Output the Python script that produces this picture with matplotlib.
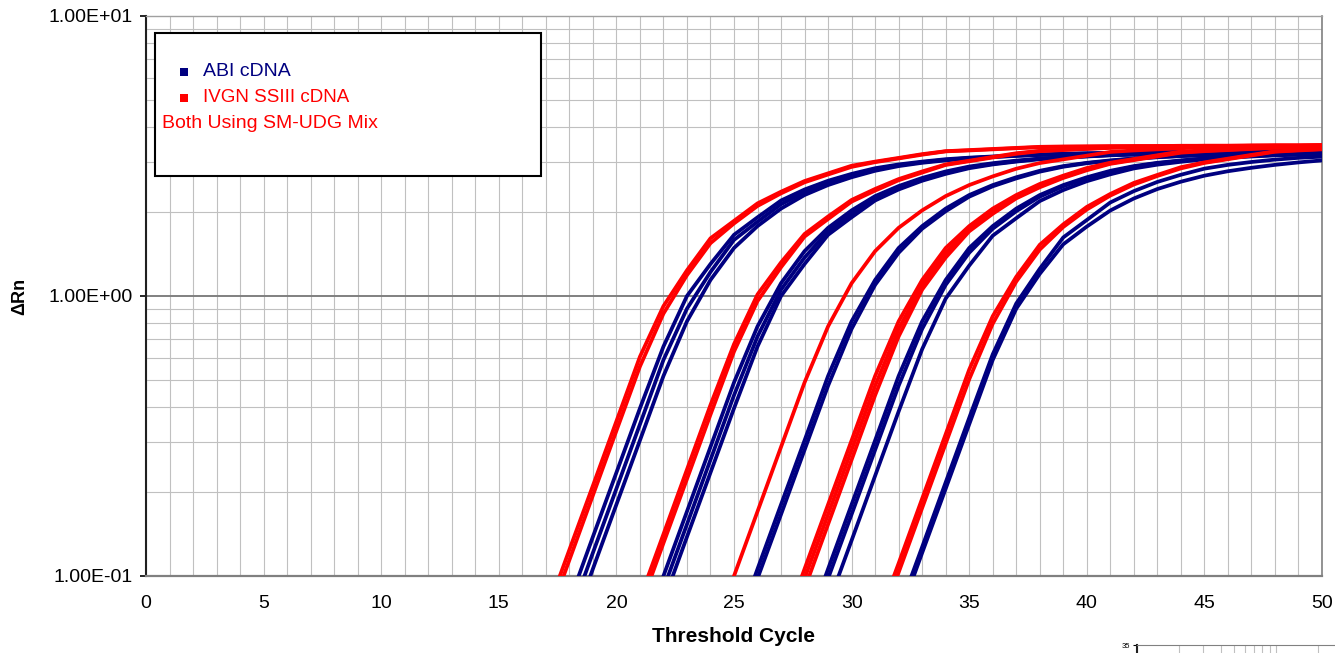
import numpy as np
import matplotlib
matplotlib.use("Agg")
import matplotlib.pyplot as plt
from matplotlib.patches import Rectangle
from matplotlib.ticker import FixedLocator, NullFormatter, MultipleLocator

plt.rcParams['font.family'] = ['Liberation Sans', 'DejaVu Sans']

# ---------------- data (Delta Rn at integer cycles) ----------------
# IVGN SSIII cDNA (red) : (first cycle, values up to cycle 50)
ivgn_1a_start, ivgn_1a = 17, [0.073, 0.124, 0.210, 0.357, 0.607, 0.920, 1.235, 1.607, 1.855, 2.142, 2.358, 2.574, 2.742, 2.919, 3.020, 3.113, 3.211, 3.290, 3.32, 3.35, 3.38, 3.41, 3.42, 3.42, 3.43, 3.43, 3.43, 3.44, 3.44, 3.44, 3.45, 3.45, 3.45, 3.46]
ivgn_1b_start, ivgn_1b = 17, [0.067, 0.114, 0.194, 0.330, 0.560, 0.865, 1.187, 1.544, 1.816, 2.097, 2.326, 2.547, 2.716, 2.892, 3.006, 3.099, 3.196, 3.285, 3.31, 3.34, 3.37, 3.40, 3.41, 3.42, 3.42, 3.43, 3.43, 3.43, 3.44, 3.44, 3.44, 3.45, 3.45, 3.45]
ivgn_2a_start, ivgn_2a = 20, [0.049, 0.083, 0.141, 0.240, 0.408, 0.673, 1.013, 1.318, 1.665, 1.923, 2.203, 2.412, 2.616, 2.785, 2.951, 3.042, 3.138, 3.235, 3.30, 3.33, 3.36, 3.39, 3.41, 3.42, 3.42, 3.43, 3.43, 3.44, 3.44, 3.44, 3.45]
ivgn_2b_start, ivgn_2b = 20, [0.045, 0.077, 0.131, 0.222, 0.377, 0.633, 0.959, 1.267, 1.630, 1.883, 2.173, 2.379, 2.591, 2.759, 2.938, 3.029, 3.123, 3.220, 3.29, 3.32, 3.35, 3.38, 3.40, 3.41, 3.42, 3.42, 3.43, 3.43, 3.44, 3.44, 3.45]
ivgn_3_start, ivgn_3 = 24, [0.059, 0.100, 0.170, 0.289, 0.491, 0.779, 1.111, 1.446, 1.752, 2.022, 2.274, 2.490, 2.674, 2.848, 2.984, 3.076, 3.171, 3.270, 3.31, 3.34, 3.37, 3.40, 3.41, 3.42, 3.42, 3.43, 3.43]
ivgn_4a_start, ivgn_4a = 27, [0.062, 0.106, 0.180, 0.305, 0.518, 0.812, 1.141, 1.484, 1.777, 2.052, 2.294, 2.513, 2.691, 2.865, 2.992, 3.085, 3.181, 3.281, 3.31, 3.34, 3.37, 3.40, 3.41, 3.42]
ivgn_4b_start, ivgn_4b = 27, [0.058, 0.098, 0.166, 0.282, 0.478, 0.763, 1.096, 1.427, 1.739, 2.008, 2.263, 2.479, 2.665, 2.838, 2.979, 3.071, 3.166, 3.265, 3.30, 3.33, 3.36, 3.39, 3.41, 3.41]
ivgn_4c_start, ivgn_4c = 27, [0.053, 0.090, 0.153, 0.260, 0.442, 0.717, 1.054, 1.372, 1.702, 1.966, 2.232, 2.445, 2.640, 2.812, 2.965, 3.057, 3.152, 3.250, 3.29, 3.32, 3.35, 3.38, 3.40, 3.41]
ivgn_5a_start, ivgn_5a = 31, [0.066, 0.111, 0.189, 0.321, 0.546, 0.847, 1.171, 1.524, 1.803, 2.081, 2.315, 2.535, 2.707, 2.884, 3.001, 3.094, 3.191, 3.285, 3.32, 3.35]
ivgn_5b_start, ivgn_5b = 31, [0.061, 0.103, 0.175, 0.297, 0.504, 0.796, 1.126, 1.465, 1.764, 2.037, 2.284, 2.501, 2.683, 2.856, 2.987, 3.080, 3.176, 3.276, 3.31, 3.34]

# ABI cDNA (navy)
abi_1a_start, abi_1a = 18, [0.081, 0.138, 0.234, 0.397, 0.660, 1.000, 1.301, 1.654, 1.910, 2.193, 2.401, 2.58, 2.73, 2.86, 2.95, 3.02, 3.08, 3.12, 3.15, 3.18, 3.20, 3.22, 3.23, 3.24, 3.25, 3.26, 3.265, 3.27, 3.275, 3.28, 3.285, 3.29, 3.30]
abi_1b_start, abi_1b = 18, [0.071, 0.121, 0.205, 0.348, 0.591, 0.901, 1.218, 1.586, 1.842, 2.127, 2.347, 2.535, 2.69, 2.83, 2.93, 3.005, 3.065, 3.11, 3.14, 3.17, 3.195, 3.215, 3.23, 3.24, 3.25, 3.255, 3.26, 3.27, 3.275, 3.28, 3.285, 3.29, 3.295]
abi_1c_start, abi_1c = 18, [0.062, 0.106, 0.180, 0.305, 0.518, 0.812, 1.141, 1.484, 1.777, 2.052, 2.294, 2.49, 2.655, 2.80, 2.91, 2.99, 3.05, 3.10, 3.135, 3.165, 3.19, 3.21, 3.225, 3.235, 3.245, 3.25, 3.26, 3.265, 3.27, 3.275, 3.28, 3.285, 3.29]
abi_2a_start, abi_2a = 21, [0.059, 0.100, 0.170, 0.289, 0.491, 0.779, 1.111, 1.446, 1.752, 2.022, 2.274, 2.47, 2.64, 2.785, 2.90, 2.98, 3.045, 3.095, 3.13, 3.16, 3.19, 3.21, 3.225, 3.235, 3.245, 3.25, 3.26, 3.265, 3.27, 3.275]
abi_2b_start, abi_2b = 21, [0.053, 0.090, 0.153, 0.260, 0.442, 0.717, 1.054, 1.372, 1.702, 1.966, 2.232, 2.435, 2.61, 2.76, 2.88, 2.965, 3.03, 3.09, 3.125, 3.155, 3.185, 3.205, 3.22, 3.23, 3.24, 3.25, 3.255, 3.26, 3.265, 3.27]
abi_2c_start, abi_2c = 21, [0.048, 0.081, 0.138, 0.234, 0.397, 0.660, 1.000, 1.301, 1.654, 1.910, 2.193, 2.401, 2.58, 2.73, 2.86, 2.95, 3.02, 3.08, 3.12, 3.15, 3.18, 3.20, 3.22, 3.23, 3.24, 3.245, 3.25, 3.26, 3.265, 3.27]
abi_3a_start, abi_3a = 25, [0.062, 0.106, 0.180, 0.305, 0.518, 0.812, 1.141, 1.484, 1.777, 2.052, 2.294, 2.49, 2.655, 2.80, 2.91, 2.99, 3.05, 3.10, 3.135, 3.165, 3.19, 3.21, 3.225, 3.235, 3.245, 3.25]
abi_3b_start, abi_3b = 25, [0.058, 0.098, 0.166, 0.282, 0.478, 0.763, 1.096, 1.427, 1.739, 2.008, 2.263, 2.465, 2.63, 2.78, 2.895, 2.98, 3.04, 3.095, 3.13, 3.16, 3.185, 3.205, 3.22, 3.23, 3.24, 3.245]
abi_4a_start, abi_4a = 28, [0.062, 0.106, 0.180, 0.305, 0.518, 0.812, 1.141, 1.484, 1.777, 2.052, 2.294, 2.49, 2.655, 2.80, 2.91, 2.99, 3.05, 3.10, 3.135, 3.165, 3.19, 3.21, 3.225]
abi_4b_start, abi_4b = 28, [0.058, 0.098, 0.166, 0.282, 0.478, 0.763, 1.096, 1.427, 1.739, 2.008, 2.263, 2.465, 2.63, 2.78, 2.895, 2.98, 3.04, 3.095, 3.13, 3.16, 3.185, 3.205, 3.22]
abi_4c_start, abi_4c = 29, [0.079, 0.134, 0.228, 0.387, 0.646, 0.979, 1.284, 1.642, 1.896, 2.183, 2.390, 2.57, 2.72, 2.855, 2.945, 3.015, 3.075, 3.12, 3.15, 3.18, 3.20, 3.22]
abi_5a_start, abi_5a = 32, [0.075, 0.127, 0.216, 0.367, 0.619, 0.940, 1.251, 1.619, 1.868, 2.158, 2.369, 2.555, 2.71, 2.85, 2.94, 3.01, 3.07, 3.115, 3.145]
abi_5b_start, abi_5b = 32, [0.071, 0.121, 0.205, 0.348, 0.591, 0.901, 1.20, 1.53, 1.77, 2.02, 2.23, 2.41, 2.56, 2.69, 2.79, 2.87, 2.94, 3.00, 3.05]

abi_curves = [(abi_1a_start, abi_1a), (abi_1b_start, abi_1b), (abi_1c_start, abi_1c),
              (abi_2a_start, abi_2a), (abi_2b_start, abi_2b), (abi_2c_start, abi_2c),
              (abi_3a_start, abi_3a), (abi_3b_start, abi_3b),
              (abi_4a_start, abi_4a), (abi_4b_start, abi_4b), (abi_4c_start, abi_4c),
              (abi_5a_start, abi_5a), (abi_5b_start, abi_5b)]
ivgn_curves = [(ivgn_1a_start, ivgn_1a), (ivgn_1b_start, ivgn_1b),
               (ivgn_2a_start, ivgn_2a), (ivgn_2b_start, ivgn_2b),
               (ivgn_3_start, ivgn_3),
               (ivgn_4a_start, ivgn_4a), (ivgn_4b_start, ivgn_4b), (ivgn_4c_start, ivgn_4c),
               (ivgn_5a_start, ivgn_5a), (ivgn_5b_start, ivgn_5b)]

x_ticks = [0, 5, 10, 15, 20, 25, 30, 35, 40, 45, 50]
y_ticks = [0.1, 1.0, 10.0]
y_tick_labels = ["1.00E-01", "1.00E+00", "1.00E+01"]
legend_labels = ["ABI cDNA", "IVGN SSIII cDNA"]
legend_note = "Both Using SM-UDG Mix"
x_label = "Threshold Cycle"
y_label = "\u0394Rn"

NAVY = "#000080"
RED = "#FF0000"
GRID = "#C0C0C0"

# ---------------- figure ----------------
W, H = 1335, 653
fig = plt.figure(figsize=(W / 100, H / 100), dpi=100)
fig.patch.set_facecolor("white")

def fx(px):
    return px / W

def fy(py):
    return 1 - py / H

ax = fig.add_axes([fx(146), fy(576), fx(1322) - fx(146), fy(16) - fy(576)])
ax.set_yscale("log")
ax.set_xlim(0, 50)
ax.set_ylim(0.1, 10)

for start, vals in abi_curves:
    cyc = np.arange(start, start + len(vals))
    ax.plot(cyc, vals, color=NAVY, lw=2.7, solid_joinstyle="round", zorder=3)
for start, vals in ivgn_curves:
    cyc = np.arange(start, start + len(vals))
    ax.plot(cyc, vals, color=RED, lw=2.7, solid_joinstyle="round", zorder=4)

# grid
ax.xaxis.set_major_locator(FixedLocator(x_ticks))
ax.xaxis.set_minor_locator(MultipleLocator(1))
ax.yaxis.set_major_locator(FixedLocator(y_ticks))
ax.yaxis.set_minor_locator(FixedLocator([m * d for d in (0.1, 1.0) for m in range(2, 10)]))
ax.yaxis.set_minor_formatter(NullFormatter())
ax.set_yticklabels(y_tick_labels)
ax.grid(True, which="both", axis="x", color=GRID, lw=0.8, zorder=0)
ax.grid(True, which="minor", axis="y", color=GRID, lw=0.8, zorder=0)
ax.axhline(1.0, color="#808080", lw=1.4, zorder=1)
ax.set_axisbelow(True)

ax.tick_params(axis="x", which="both", length=0, pad=14, labelsize=14)
ax.tick_params(axis="y", which="major", length=4.5, width=1.2, pad=5, labelsize=14, direction="out")
ax.tick_params(axis="y", which="minor", length=0)

ax.spines["left"].set_color("#202020")
ax.spines["left"].set_linewidth(1.5)
ax.spines["bottom"].set_color("#808080")
ax.spines["bottom"].set_linewidth(1.6)
ax.spines["top"].set_color("#A0A0A0")
ax.spines["top"].set_linewidth(1.0)
ax.spines["right"].set_color("#808080")
ax.spines["right"].set_linewidth(1.2)

# axis titles
fig.text(fx(733), fy(637), x_label, ha="center", va="center", fontsize=15, fontweight="bold")
fig.text(fx(20), fy(296), y_label, ha="center", va="center", rotation=90, fontsize=13, fontweight="bold")

# legend box
fig.add_artist(Rectangle((fx(155), fy(176)), fx(541) - fx(155), fy(33) - fy(176),
                         transform=fig.transFigure, facecolor="white", edgecolor="black",
                         lw=1.5, zorder=5))
sq = 8
fig.add_artist(Rectangle((fx(184 - sq / 2), fy(72 + sq / 2)), fx(sq), sq / H,
                         transform=fig.transFigure, facecolor=NAVY, edgecolor="none", zorder=6))
fig.add_artist(Rectangle((fx(184 - sq / 2), fy(98 + sq / 2)), fx(sq), sq / H,
                         transform=fig.transFigure, facecolor=RED, edgecolor="none", zorder=6))
fig.text(fx(203), fy(72), legend_labels[0], color=NAVY, fontsize=14, ha="left", va="center", zorder=7)
fig.text(fx(203), fy(98), legend_labels[1], color=RED, fontsize=13.5, ha="left", va="center", zorder=7)
fig.text(fx(162), fy(123), legend_note, color=RED, fontsize=14, ha="left", va="center", zorder=7)

# fragment of a neighbouring chart, bottom-right corner
ax2 = fig.add_axes([fx(1137), -0.1, 1 - fx(1137), 0.1 + fy(645)])
ax2.set_xscale("log")
ax2.set_xlim(1, 26.6)
ax2.set_ylim(0, 35)
ax2.set_yticks([35])
ax2.set_yticklabels(["35"])
ax2.tick_params(axis="y", length=3, labelsize=5.5, pad=2)
ax2.tick_params(axis="x", which="both", length=0, labelbottom=False)
ax2.xaxis.set_minor_formatter(NullFormatter())
ax2.grid(True, which="both", axis="x", color=GRID, lw=0.8)
for s in ("right", "bottom"):
    ax2.spines[s].set_visible(False)
ax2.spines["top"].set_color("#808080")
ax2.spines["left"].set_color("#202020")
ax2.spines["left"].set_linewidth(1.5)

fig.savefig("out.png", dpi=100, facecolor="white")
